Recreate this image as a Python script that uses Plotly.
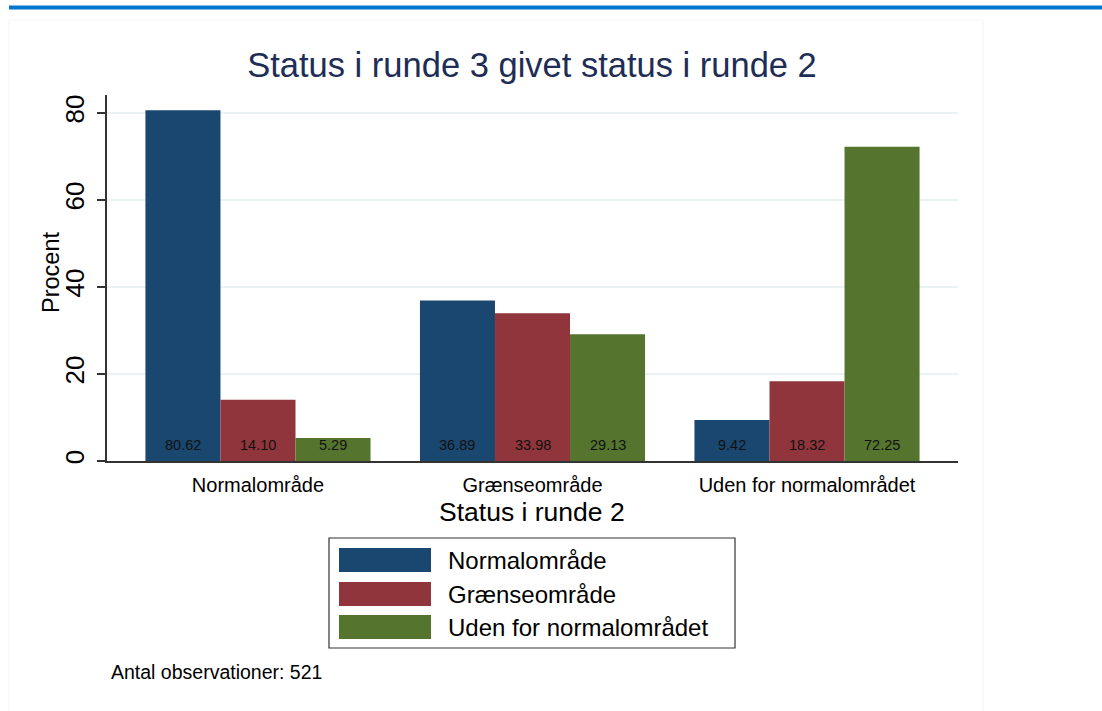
import plotly.graph_objects as go

categories = ["Normalområde", "Grænseområde", "Uden for normalområdet"]
series_names = ["Normalområde", "Grænseområde", "Uden for normalområdet"]
normal_vals = [80.62, 36.89, 9.42]
graense_vals = [14.10, 33.98, 18.32]
uden_vals = [5.29, 29.13, 72.25]
series_values = [normal_vals, graense_vals, uden_vals]
colors = ["#1a476f", "#90353b", "#55752f"]

W, H = 1102, 711
L, R, T, B = 107, 144, 95, 250
PW, PH = W - L - R, H - T - B
FONT = "Liberation Sans, Arial, sans-serif"
BARGAP = 0.18
PX_PER_UNIT = (H - B - 113) / 80.0


def xp(px):
    return (px - L) / PW


def yp(py):
    return (H - B - py) / PH


fig = go.Figure()
annotations = []
n_series = len(series_values)
slot = (1 - BARGAP) / n_series
for j, (name, vals, col) in enumerate(zip(series_names, series_values, colors)):
    fig.add_trace(go.Bar(
        x=list(range(len(categories))), y=vals, name=name,
        marker=dict(color=col, line=dict(width=0)),
        showlegend=False, hoverinfo="skip",
    ))
    for i, v in enumerate(vals):
        annotations.append(dict(
            text=f"{v:.2f}", xref="x", yref="y",
            x=i + (j - (n_series - 1) / 2) * slot, y=0,
            xanchor="center", yanchor="middle", yshift=16, showarrow=False,
            font=dict(family=FONT, size=14.5, color="#111111")))

shapes = []

# top blue line
shapes.append(dict(type="rect", xref="paper", yref="paper",
                   x0=xp(9), x1=xp(1102), y0=yp(9.5), y1=yp(5.5),
                   fillcolor="#0076d1", line=dict(width=0), layer="above"))
# faint outer frame
shapes.append(dict(type="rect", xref="paper", yref="paper",
                   x0=xp(9), x1=xp(983), y0=yp(712), y1=yp(20),
                   fillcolor="rgba(0,0,0,0)", line=dict(color="#f4f4f4", width=1),
                   layer="below"))

# legend box
shapes.append(dict(type="rect", xref="paper", yref="paper",
                   x0=xp(329), x1=xp(735), y0=yp(648), y1=yp(538),
                   fillcolor="white", line=dict(color="#333333", width=1.2)))
row_y = [560, 594, 627]
for name, col, ry in zip(series_names, colors, row_y):
    shapes.append(dict(type="rect", xref="paper", yref="paper",
                       x0=xp(339), x1=xp(431), y0=yp(ry + 12), y1=yp(ry - 12),
                       fillcolor=col, line=dict(width=0)))
    annotations.append(dict(text=name, xref="paper", yref="paper",
                            x=xp(446), y=yp(ry), xanchor="left", yanchor="middle",
                            showarrow=False, font=dict(family=FONT, size=24, color="#000000")))

# axis titles
annotations.append(dict(text="Procent", xref="paper", yref="paper",
                        x=xp(51), y=yp(273), textangle=-90,
                        xanchor="center", yanchor="middle", showarrow=False,
                        font=dict(family=FONT, size=23.5, color="#000000")))
annotations.append(dict(text="Status i runde 2", xref="paper", yref="paper",
                        x=xp(532), y=yp(512), xanchor="center", yanchor="middle",
                        showarrow=False, font=dict(family=FONT, size=26.5, color="#000000")))
# note
annotations.append(dict(text="Antal observationer: 521", xref="paper", yref="paper",
                        x=xp(109), y=yp(672), xanchor="left", yanchor="middle",
                        showarrow=False, font=dict(family=FONT, size=19.5, color="#000000")))

fig.update_layout(
    width=W, height=H,
    margin=dict(l=L, r=R, t=T, b=B, autoexpand=False),
    paper_bgcolor="white", plot_bgcolor="white",
    barmode="group", bargap=BARGAP, bargroupgap=0,
    title=dict(text="Status i runde 3 givet status i runde 2",
               x=xp(532), xref="paper", y=1 - 65 / H, yref="container",
               xanchor="center", yanchor="middle",
               font=dict(family=FONT, size=34.5, color="#1e2d55")),
    xaxis=dict(range=[-0.55, 2.55], tickvals=list(range(len(categories))),
               ticktext=categories, ticks="", showgrid=False,
               showline=True, linecolor="#333333", linewidth=1.5,
               tickfont=dict(family=FONT, size=20, color="#000000"),
               ticklabelstandoff=5, zeroline=False, fixedrange=True),
    yaxis=dict(range=[0, PH / PX_PER_UNIT], tickvals=[0, 20, 40, 60, 80],
               ticks="outside", ticklen=8, tickcolor="#333333", tickwidth=1.5,
               tickangle=-90, showline=True, linecolor="#333333", linewidth=1.5,
               showgrid=True, gridcolor="#eaf2f3", gridwidth=1.5, zeroline=False,
               tickfont=dict(family=FONT, size=26, color="#000000"),
               ticklabelstandoff=3, fixedrange=True),
    shapes=shapes, annotations=annotations,
    showlegend=False,
)

fig.write_html("out.html", config={"displayModeBar": False},
               post_script="document.body.style.margin='0';")
